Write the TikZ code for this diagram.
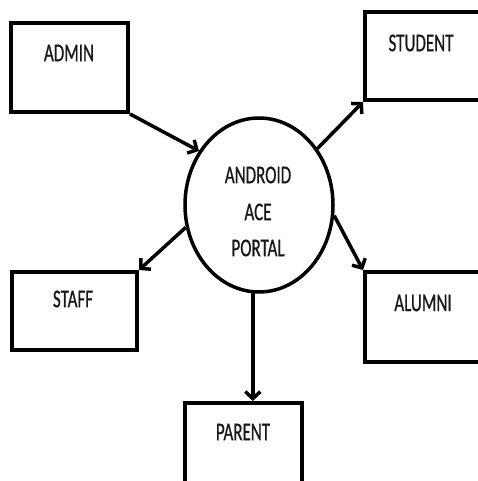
\documentclass[tikz,border=0pt]{standalone}
\usepackage{fontspec}
\setmainfont{Carlito}[FakeBold=1]
\usepackage{graphicx}
\usetikzlibrary{shapes.geometric,arrows.meta}
\newcommand{\tallt}[1]{\scalebox{1}[1.5]{#1}}
\begin{document}
\begin{tikzpicture}[x=1pt,y=-1pt,
  box/.style={draw, rectangle, line width=4pt, inner sep=0pt},
  lbl/.style={font=\fontsize{17}{20}\selectfont, text=black!90, inner sep=0pt},
  arr/.style={line width=3.5pt, -{Straight Barb[length=7pt,width=15pt]}}]
\useasboundingbox (0,0) rectangle (478,481);
\clip (0,0) rectangle (478,481);
\fill[white] (0,0) rectangle (478,481);
% boxes
\node[box, minimum width=117pt, minimum height=89pt] (admin) at (69.5,67.5) {};
\node[box, minimum width=120pt, minimum height=88pt] (student) at (425,56) {};
\node[box, minimum width=125pt, minimum height=78pt] (staff) at (74.5,311) {};
\node[box, minimum width=120pt, minimum height=90pt] (alumni) at (425,317) {};
\node[box, minimum width=117pt, minimum height=87pt] (parent) at (243.5,446.5) {};
\node[draw, ellipse, line width=3.5pt, inner sep=0pt, minimum width=148pt, minimum height=174pt] (ell) at (259,205) {};
% labels
\node[lbl] (tadmin) at (69,53) {\tallt{ADMIN}};
\node[lbl] (tstudent) at (421,43) {\tallt{STUDENT}};
\node[lbl] (tstaff) at (73,299) {\tallt{STAFF}};
\node[lbl] (talumni) at (423,303) {\tallt{ALUMNI}};
\node[lbl] (tparent) at (243,432) {\tallt{PARENT}};
\node[lbl] (t1) at (258,175) {\tallt{ANDROID}};
\node[lbl] (t2) at (258,212) {\tallt{ACE}};
\node[lbl] (t3) at (258,248) {\tallt{PORTAL}};
% connectors
\draw[arr] (admin.south east) -- (ell.138.6);
\draw[arr] (ell.44) -- (student.south west);
\draw[arr] (ell.197.7) -- (staff.north east);
\draw[arr] (ell.-8) -- (alumni.north west);
\draw[arr] (ell.-94) -- (ell.-94 |- parent.north);
\end{tikzpicture}
\end{document}
